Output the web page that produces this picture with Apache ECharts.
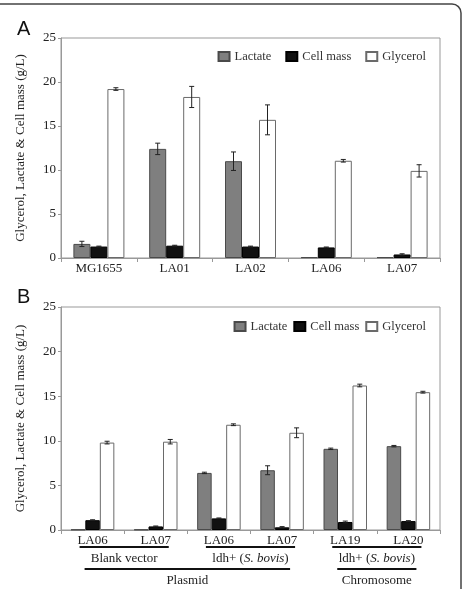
<!DOCTYPE html>
<html>
<head>
<meta charset="utf-8">
<script src="https://cdn.jsdelivr.net/npm/echarts@6/dist/echarts.min.js"></script>
<style>
  html, body { margin: 0; padding: 0; background: #fff; }
  #chart { width: 465px; height: 589px; }
</style>
</head>
<body>
<div id="chart"></div>
<script>
// panel A
const strainsA = ['MG1655', 'LA01', 'LA02', 'LA06', 'LA07'];
const lactateA = [1.6, 12.4, 11.0, 0.1, 0.1];
const lactateErrA = [0.3, 0.65, 1.05, 0, 0];
const cellMassA = [1.3, 1.4, 1.3, 1.2, 0.4];
const cellMassErrA = [0.05, 0.05, 0.05, 0.05, 0.08];
const glycerolA = [19.2, 18.3, 15.7, 11.05, 9.9];
const glycerolErrA = [0.15, 1.2, 1.7, 0.15, 0.7];

// panel B
const strainsB = ['LA06', 'LA07', 'LA06', 'LA07', 'LA19', 'LA20'];
const lactateB = [0.05, 0.05, 6.4, 6.7, 9.1, 9.4];
const lactateErrB = [0, 0, 0.08, 0.5, 0.08, 0.08];
const cellMassB = [1.1, 0.4, 1.3, 0.3, 0.9, 1.0];
const cellMassErrB = [0.05, 0.05, 0.05, 0.08, 0.1, 0.05];
const glycerolB = [9.8, 9.9, 11.8, 10.9, 16.2, 15.45];
const glycerolErrB = [0.15, 0.25, 0.1, 0.55, 0.15, 0.1];

const yTicks = [0, 5, 10, 15, 20, 25];
const groupsInner = [
  { label: 'Blank vector', from: 0, to: 1, italic: false },
  { label: 'ldh+ (S. bovis)', from: 2, to: 3, italic: true },
  { label: 'ldh+ (S. bovis)', from: 4, to: 5, italic: true }
];
const groupsOuter = [
  { label: 'Plasmid', from: 0, to: 3 },
  { label: 'Chromosome', from: 4, to: 5 }
];

const serif = 'Liberation Serif';
const bwA = 17;
const bwB = 14.5;

let myChart = echarts.init(document.getElementById('chart'));

function zipErr (vals, errs) {
  return vals.map((v, i) => [i, v, errs[i]]);
}

function errSeries (name, vals, errs, offset, bw, axis) {
  return {
    name: name + ' err',
    type: 'custom',
    xAxisIndex: axis,
    yAxisIndex: axis,
    z: 5,
    silent: true,
    data: zipErr(vals, errs),
    encode: { x: 0, y: 1 },
    renderItem: function (params, api) {
      const e = api.value(2);
      if (!e) return;
      const i = api.value(0);
      const v = api.value(1);
      const hi = api.coord([i, v + e]);
      const lo = api.coord([i, v - e]);
      const x = hi[0] + offset * bw;
      const st = { stroke: '#222', lineWidth: 1 };
      return {
        type: 'group',
        children: [
          { type: 'line', shape: { x1: x, y1: hi[1], x2: x, y2: lo[1] }, style: st },
          { type: 'line', shape: { x1: x - 2.5, y1: hi[1], x2: x + 2.5, y2: hi[1] }, style: st },
          { type: 'line', shape: { x1: x - 2.5, y1: lo[1], x2: x + 2.5, y2: lo[1] }, style: st }
        ]
      };
    }
  };
}

function barSeries (name, vals, axis, bw, style) {
  return {
    name: name,
    type: 'bar',
    xAxisIndex: axis,
    yAxisIndex: axis,
    barWidth: bw,
    barGap: '0%',
    data: vals,
    itemStyle: style
  };
}

const lactStyle = { color: '#7f7f7f', borderColor: '#4a4a4a', borderWidth: 1 };
const cellStyle = { color: '#111', borderColor: '#000', borderWidth: 1 };
const glyStyle = { color: '#fff', borderColor: '#6a6a6a', borderWidth: 1 };

function yAxisOpt (idx) {
  return {
    type: 'value',
    gridIndex: idx,
    min: 0,
    max: 25,
    interval: 5,
    name: 'Glycerol, Lactate & Cell mass (g/L)',
    nameLocation: 'middle',
    nameGap: 34,
    nameTextStyle: { fontFamily: serif, fontSize: 13, color: '#222' },
    axisLine: { show: true, lineStyle: { color: '#999' } },
    axisTick: { show: true, length: 3, lineStyle: { color: '#999' } },
    axisLabel: {
      fontFamily: serif, fontSize: 13, color: '#222', margin: 5,
      formatter: (v) => yTicks.includes(v) ? String(v) : ''
    },
    splitLine: { show: false }
  };
}

function xAxisOpt (idx, cats) {
  return {
    type: 'category',
    gridIndex: idx,
    data: cats,
    axisLine: { show: true, lineStyle: { color: '#999' } },
    axisTick: { show: true, length: 4, lineStyle: { color: '#999' } },
    axisLabel: { fontFamily: serif, fontSize: 13, color: '#222', margin: 4 }
  };
}

function legendOpt (top, right, gap) {
  return {
    top: top,
    right: right,
    icon: 'rect',
    itemWidth: 11,
    itemHeight: 9,
    itemGap: gap,
    data: ['Lactate', 'Cell mass', 'Glycerol'],
    textStyle: { fontFamily: serif, fontSize: 12.5, color: '#333' },
    selectedMode: false
  };
}

const option = {
  animation: false,
  backgroundColor: '#fff',
  title: [
    { text: 'A', left: 12, top: 14, textStyle: { fontFamily: 'Liberation Sans', fontSize: 20, fontWeight: 'normal', color: '#111' } },
    { text: 'B', left: 12, top: 282, textStyle: { fontFamily: 'Liberation Sans', fontSize: 20, fontWeight: 'normal', color: '#111' } }
  ],
  legend: [legendOpt(45, 34, 14), legendOpt(315, 34, 6)],
  grid: [
    { left: 61, top: 38, right: 25, height: 220, show: true, borderColor: '#999', borderWidth: 1, backgroundColor: 'transparent' },
    { left: 61, top: 307, right: 25, height: 223, show: true, borderColor: '#999', borderWidth: 1, backgroundColor: 'transparent' }
  ],
  xAxis: [xAxisOpt(0, strainsA), xAxisOpt(1, strainsB)],
  yAxis: [yAxisOpt(0), yAxisOpt(1)],
  series: [
    barSeries('Lactate', lactateA, 0, bwA, lactStyle),
    barSeries('Cell mass', cellMassA, 0, bwA, cellStyle),
    barSeries('Glycerol', glycerolA, 0, bwA, glyStyle),
    barSeries('Lactate', lactateB, 1, bwB, lactStyle),
    barSeries('Cell mass', cellMassB, 1, bwB, cellStyle),
    barSeries('Glycerol', glycerolB, 1, bwB, glyStyle),
    errSeries('Lactate', lactateA, lactateErrA, -1, bwA, 0),
    errSeries('Cell mass', cellMassA, cellMassErrA, 0, bwA, 0),
    errSeries('Glycerol', glycerolA, glycerolErrA, 1, bwA, 0),
    errSeries('Lactate', lactateB, lactateErrB, -1, bwB, 1),
    errSeries('Cell mass', cellMassB, cellMassErrB, 0, bwB, 1),
    errSeries('Glycerol', glycerolB, glycerolErrB, 1, bwB, 1)
  ]
};

myChart.setOption(option);

// group brackets under panel B, placed from the category centres
function catX (i) {
  return myChart.convertToPixel({ xAxisIndex: 1 }, i);
}

const graphics = [
  {
    type: 'rect',
    shape: { x: -10, y: 4, width: 471, height: 620, r: 9 },
    style: { fill: 'none', stroke: '#444', lineWidth: 1.5 },
    silent: true
  }
];

groupsInner.forEach((g) => {
  const x1 = catX(g.from) - 13;
  const x2 = catX(g.to) + 13;
  graphics.push({
    type: 'line',
    shape: { x1: x1, y1: 547, x2: x2, y2: 547 },
    style: { stroke: '#111', lineWidth: 2 }
  });
  let txt = g.label;
  if (g.italic) txt = '{n|ldh+ (}{i|S. bovis}{n|)}';
  graphics.push({
    type: 'text',
    x: (x1 + x2) / 2,
    y: 559,
    style: {
      text: txt,
      align: 'center',
      verticalAlign: 'middle',
      font: '13px "Liberation Serif"',
      fill: '#222',
      rich: {
        n: { fontFamily: serif, fontSize: 13, fill: '#222' },
        i: { fontFamily: serif, fontSize: 13, fontStyle: 'italic', fill: '#222' }
      }
    }
  });
});

groupsOuter.forEach((g) => {
  const x1 = catX(g.from) - 8;
  const x2 = catX(g.to) + 8;
  graphics.push({
    type: 'line',
    shape: { x1: x1, y1: 569, x2: x2, y2: 569 },
    style: { stroke: '#111', lineWidth: 2 }
  });
  graphics.push({
    type: 'text',
    x: (x1 + x2) / 2,
    y: 581,
    style: {
      text: g.label,
      align: 'center',
      verticalAlign: 'middle',
      font: '13px "Liberation Serif"',
      fill: '#222'
    }
  });
});

myChart.setOption({ graphic: graphics });
</script>
</body>
</html>
